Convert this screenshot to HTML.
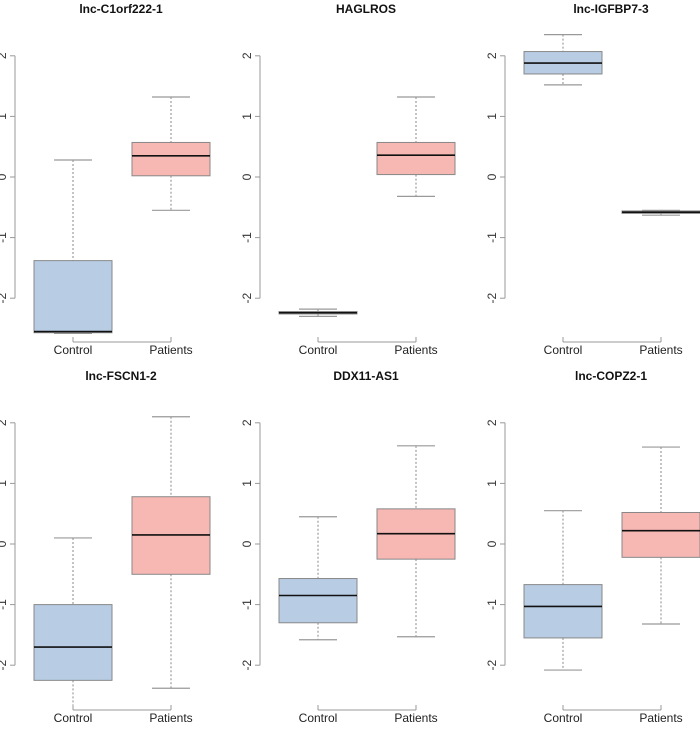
<!DOCTYPE html>
<html><head><meta charset="utf-8"><style>
body{margin:0;background:#fff;}
svg{display:block;font-family:"Liberation Sans",Arial,sans-serif;}
</style></head><body>
<svg id="c" width="700" height="736"></svg>
<script>
const titles=["lnc-C1orf222-1","HAGLROS","lnc-IGFBP7-3","lnc-FSCN1-2","DDX11-AS1","lnc-COPZ2-1"];
const groups=["Control","Patients"];
// [whiskerLow, Q1, median, Q3, whiskerHigh]
const controlStats=[[-2.58,-2.57,-2.55,-1.38,0.28],[-2.3,-2.26,-2.24,-2.22,-2.18],[1.52,1.7,1.88,2.07,2.35],[-2.78,-2.25,-1.7,-1.0,0.1],[-1.58,-1.3,-0.85,-0.57,0.45],[-2.08,-1.55,-1.03,-0.67,0.55]];
const patientStats=[[-0.55,0.02,0.35,0.57,1.32],[-0.32,0.04,0.36,0.57,1.32],[-0.63,-0.6,-0.58,-0.56,-0.55],[-2.38,-0.5,0.15,0.78,2.1],[-1.53,-0.25,0.17,0.58,1.62],[-1.32,-0.22,0.22,0.52,1.6]];
const yTicks=[-2,-1,0,1,2];
const ns="http://www.w3.org/2000/svg";
const svg=document.getElementById('c');
function mk(tag,at,parent){const e=document.createElementNS(ns,tag);for(const k in at)e.setAttribute(k,at[k]);(parent||svg).appendChild(e);return e;}
const fills=["#b8cce4","#f7b7b3"];
titles.forEach((t,i)=>{
  const col=i%3,row=Math.floor(i/3);
  const ax=15+col*245, y0=177+row*367, unit=60.6;
  const ys=v=>y0-v*unit;
  const xs=g=>ax+58+g*98;
  const g=mk('g',{});
  
  
  const tt=mk('text',{x:ax+106,y:13+row*367,'text-anchor':'middle','font-size':12,'font-weight':'bold',fill:'#111'},g);
  tt.textContent=t;
  
  
  const clipId='clip'+i;
  const cp=mk('clipPath',{id:clipId},g);
  mk('rect',{x:ax,y:row*367+20,width:245,height:row?320:316},cp);
  const yl=mk('line',{x1:ax,x2:ax,y1:ys(2),y2:ys(-2),stroke:'#999','stroke-width':1},g);
  
  
  yTicks.forEach(v=>{
    mk('line',{x1:ax-5,x2:ax,y1:ys(v),y2:ys(v),stroke:'#999'},g);
    const tx=mk('text',{x:0,y:0,transform:`translate(${ax-9},${ys(v)}) rotate(-90)`,'text-anchor':'middle','font-size':12,fill:'#333'},g);
    tx.textContent=v;
    
    
  });
  const by=165+row*367+(row?1:0);
  const bl=mk('line',{x1:xs(0),x2:xs(1),y1:by+177,y2:by+177,stroke:'#999'},g);
  
  
  const pg=mk('g',{'clip-path':`url(#${clipId})`},g);
  [0,1].forEach(k=>{
    mk('line',{x1:xs(k),x2:xs(k),y1:by+172,y2:by+177,stroke:'#999'},g);
    const lb=mk('text',{x:xs(k),y:by+189,'text-anchor':'middle','font-size':12,fill:'#222'},g);
    lb.textContent=groups[k];
    
    
    const s=(k?patientStats:controlStats)[i];
    const cx=xs(k),hw=39,cw=19;
    mk('line',{x1:cx,x2:cx,y1:ys(s[4]),y2:ys(s[3]),stroke:'#888','stroke-dasharray':'2,2'},pg);
    mk('line',{x1:cx,x2:cx,y1:ys(s[1]),y2:ys(s[0]),stroke:'#888','stroke-dasharray':'2,2'},pg);
    mk('line',{x1:cx-cw,x2:cx+cw,y1:ys(s[4]),y2:ys(s[4]),stroke:'#999','stroke-width':1.2},pg);
    mk('line',{x1:cx-cw,x2:cx+cw,y1:ys(s[0]),y2:ys(s[0]),stroke:'#999','stroke-width':1.2},pg);
    const r=mk('rect',{x:cx-hw,y:ys(s[3]),width:hw*2,height:Math.max(1,ys(s[1])-ys(s[3])),fill:fills[k],stroke:'#888'},pg);
    
    
    const m=mk('line',{x1:cx-hw,x2:cx+hw,y1:ys(s[2]),y2:ys(s[2]),stroke:'#111','stroke-width':1.6},pg);
    
    
  });
});
</script>
</body></html>
